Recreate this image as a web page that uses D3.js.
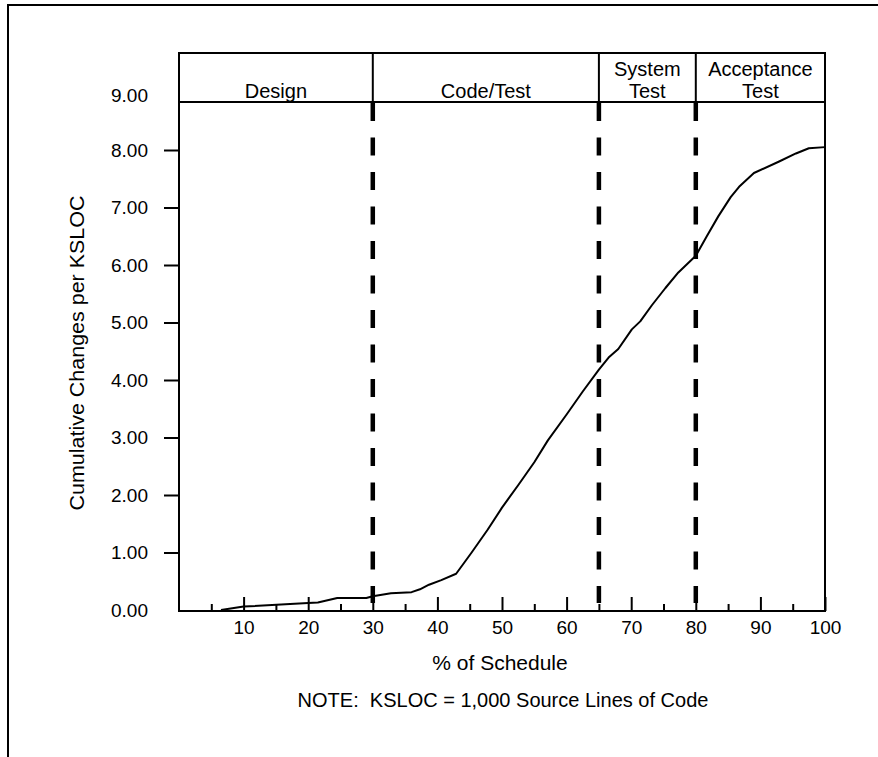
<!DOCTYPE html>
<html>
<head>
<meta charset="utf-8">
<script src="https://cdn.jsdelivr.net/npm/d3@7"></script>
<style>
  html, body { margin: 0; padding: 0; background: #fff; }
  svg { display: block; font-family: "Liberation Sans", Arial, Helvetica, sans-serif; }
  text { white-space: pre; }
</style>
</head>
<body>
<svg id="chart" width="878" height="757"></svg>
<script>
// ---- data ----
const schedulePct = [6.5, 10, 20, 21.5, 24.5, 29, 30, 32.8, 36, 37.3, 38.7, 40.6, 42.9, 44.2, 45.3, 47.8, 50, 52.5, 55, 57.1, 60, 62.5, 65, 66.5, 68, 70.1, 71.4, 73.2, 75.3, 77.3, 80, 81.7, 83.5, 85.4, 86.7, 89, 92.9, 95.5, 97.5, 100];
const cumChanges  = [0, 0.06, 0.12, 0.13, 0.21, 0.21, 0.24, 0.29, 0.31, 0.36, 0.44, 0.52, 0.63, 0.83, 1.0, 1.40, 1.78, 2.17, 2.57, 2.95, 3.4, 3.8, 4.18, 4.39, 4.54, 4.88, 5.02, 5.3, 5.6, 5.87, 6.16, 6.5, 6.85, 7.18, 7.36, 7.6, 7.8, 7.94, 8.03, 8.05];
const phaseNames  = [["Design"], ["Code/Test"], ["System", "Test"], ["Acceptance", "Test"]];
const phaseBounds = [0, 30, 65, 80, 100];
const xMajorTicks = [10, 20, 30, 40, 50, 60, 70, 80, 90, 100];
const xMinorTicks = [5, 15, 25, 35, 45, 55, 65, 75, 85, 95];
const yTickValues = [0, 1, 2, 3, 4, 5, 6, 7, 8, 9];
const xTitle = "% of Schedule";
const yTitle = "Cumulative Changes per KSLOC";
const noteText = "NOTE:  KSLOC = 1,000 Source Lines of Code";

// ---- layout ----
const svg = d3.select("#chart");
const L = 179, R = 825, B = 610, headTop = 53, headBot = 102;
const x = d3.scaleLinear().domain([0, 100]).range([L, R]);
const y = d3.scaleLinear().domain([0, 8]).range([B, 150]);

// outer frame (top and left edges)
svg.append("path").attr("d", `M8,757 L8,5 L878,5`).attr("fill", "none")
  .attr("stroke", "#000").attr("stroke-width", 2);

// x axis: major ticks inward with labels
const xAxisMajor = d3.axisBottom(x).tickValues(xMajorTicks).tickSize(-14).tickPadding(10)
  .tickFormat(d3.format("d"));
const gx = svg.append("g").attr("transform", `translate(0,${B + 1})`).call(xAxisMajor);
gx.select(".domain").remove();
gx.selectAll("line").attr("stroke", "#000").attr("stroke-width", 2);
gx.selectAll("text").attr("font-size", 19).attr("fill", "#000").attr("font-family", null);

const xAxisMinor = d3.axisBottom(x).tickValues(xMinorTicks).tickSize(-7).tickFormat("");
const gxm = svg.append("g").attr("transform", `translate(0,${B + 1})`).call(xAxisMinor);
gxm.select(".domain").remove();
gxm.selectAll("line").attr("stroke", "#000").attr("stroke-width", 2);

// y axis
const yAxis = d3.axisLeft(y).tickValues(yTickValues).tickSize(15).tickPadding(16)
  .tickFormat(d3.format(".2f"));
const gy = svg.append("g").attr("transform", `translate(${L},0)`).call(yAxis);
gy.select(".domain").remove();
gy.selectAll(".tick line").attr("stroke", "#000").attr("stroke-width", 2)
  .filter(d => d === 0 || d === 9).remove();
gy.selectAll("text").attr("font-size", 19).attr("fill", "#000").attr("font-family", null);
gy.selectAll(".tick").filter(d => d === 9).select("text").attr("dy", "0.45em");

// plot box
svg.append("rect").attr("x", L).attr("y", headTop).attr("width", R - L).attr("height", B + 1 - headTop)
  .attr("fill", "none").attr("stroke", "#000").attr("stroke-width", 2);
svg.append("line").attr("x1", L).attr("x2", R).attr("y1", headBot).attr("y2", headBot)
  .attr("stroke", "#000").attr("stroke-width", 2);

// phase dividers in header + dashed lines
const inner = phaseBounds.slice(1, -1);
svg.selectAll(".hdiv").data(inner).join("line").attr("class", "hdiv")
  .attr("x1", d => x(d)).attr("x2", d => x(d)).attr("y1", headTop).attr("y2", headBot)
  .attr("stroke", "#000").attr("stroke-width", 2);
svg.selectAll(".dash").data(inner).join("line").attr("class", "dash")
  .attr("x1", d => x(d)).attr("x2", d => x(d)).attr("y1", headBot + 1).attr("y2", 603)
  .attr("stroke", "#000").attr("stroke-width", 4.5).attr("stroke-dasharray", "18,16.5");

// phase labels
phaseNames.forEach((lines, i) => {
  const cx = (x(phaseBounds[i]) + x(phaseBounds[i + 1])) / 2;
  const t = svg.append("text").attr("text-anchor", "middle").attr("font-size", 20).attr("fill", "#000");
  lines.forEach((s, j) => {
    t.append("tspan").attr("x", cx).attr("y", 98 - (lines.length - 1 - j) * 22).text(s);
  });
});

// curve
const pts = schedulePct.map((v, i) => [v, cumChanges[i]]);
svg.append("path").datum(pts)
  .attr("d", d3.line().x(d => x(d[0])).y(d => y(d[1])))
  .attr("fill", "none").attr("stroke", "#000").attr("stroke-width", 2).attr("stroke-linejoin", "round");

// titles
svg.append("text").attr("x", 500).attr("y", 670).attr("text-anchor", "middle")
  .attr("font-size", 21).attr("fill", "#000").text(xTitle);
svg.append("text").attr("transform", "translate(84,353) rotate(-90)").attr("text-anchor", "middle")
  .attr("font-size", 20).attr("fill", "#000")
  .attr("textLength", 315).attr("lengthAdjust", "spacingAndGlyphs").text(yTitle);
svg.append("text").attr("x", 503).attr("y", 707).attr("text-anchor", "middle")
  .attr("font-size", 20).attr("fill", "#000").text(noteText);
</script>
</body>
</html>
